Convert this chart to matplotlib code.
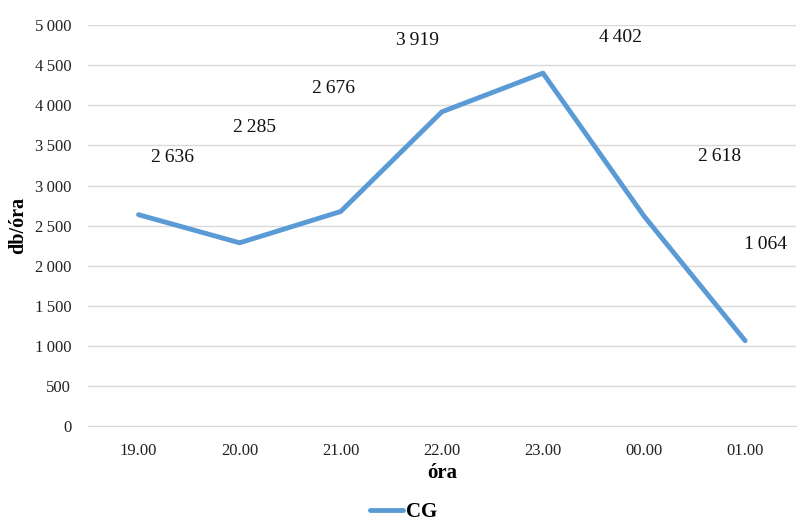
import matplotlib.pyplot as plt

hours = ['19.00', '20.00', '21.00', '22.00', '23.00', '00.00', '01.00']
cg_values = [2636, 2285, 2676, 3919, 4402, 2618, 1064]
y_ticks = [0, 500, 1000, 1500, 2000, 2500, 3000, 3500, 4000, 4500, 5000]

# label offsets in pixels (labels were moved by hand in the original)
label_offsets = [(34, 57), (15, 115), (-7, 123), (-24, 71), (78, 36), (76, 60), (20, 96)]


def fmt(v):
    return '{:,}'.format(v).replace(',', '\u2009')


plt.rcParams['font.family'] = ['Liberation Serif', 'DejaVu Serif']

fig = plt.figure(figsize=(8.07, 5.25), dpi=100)
ax = fig.add_axes([0.109, 0.1886, 0.877, 0.7634])

x = list(range(len(hours)))
ax.plot(x, cg_values, color='#5B9BD5', linewidth=3.5, label='CG', solid_capstyle='round')

for xi, v, off in zip(x, cg_values, label_offsets):
    ax.annotate(fmt(v), (xi, v), xytext=off, textcoords='offset pixels',
                ha='center', va='center', fontsize=14, color='#111111')

ax.set_xlim(-0.5, len(hours) - 0.5)
ax.set_ylim(0, 5000)
ax.set_yticks(y_ticks)
ax.set_yticklabels([fmt(t) for t in y_ticks])
ax.set_xticks(x)
ax.set_xticklabels(hours)
ax.tick_params(length=0, labelsize=12, colors='#222222')
ax.tick_params(axis='x', pad=12)
ax.tick_params(axis='y', pad=12)

ax.grid(axis='y', color='#D9D9D9', linewidth=1)
ax.set_axisbelow(True)
for s in ['top', 'right', 'left']:
    ax.spines[s].set_visible(False)
ax.spines['bottom'].set_color('#D9D9D9')

ax.set_xlabel('óra', fontsize=15, fontweight='bold', labelpad=3)
ax.set_ylabel('db/óra', fontsize=14.5, fontweight='bold', labelpad=5)

fig.legend(loc='center', bbox_to_anchor=(0.5, 0.025), frameon=False,
           prop={'weight': 'bold', 'size': 15}, handlelength=1.6, handletextpad=0.1)

fig.savefig('out.png', dpi=100)
